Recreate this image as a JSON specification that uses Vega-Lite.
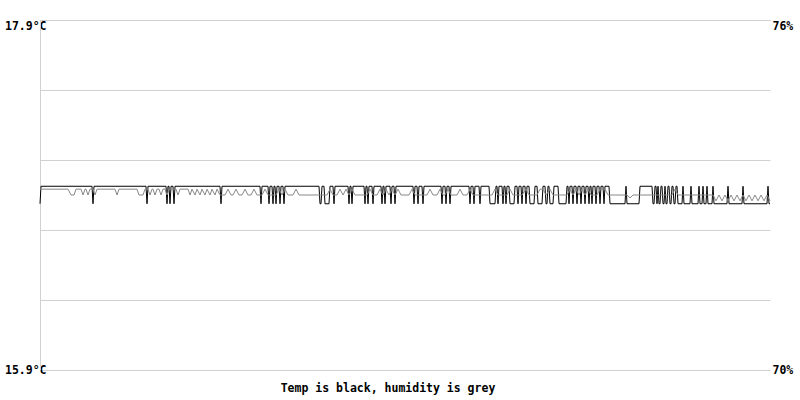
{
"$schema": "https://vega.github.io/schema/vega-lite/v6.json",
"autosize": "none",
"width": 730,
"height": 350,
"padding": {"left": 40, "top": 20, "right": 30, "bottom": 30},
"background": "white",
"config": {"view": {"stroke": null}, "font": "DejaVu Sans Mono"},
"title": {"text": "Temp is black, humidity is grey", "orient": "bottom", "anchor": "middle", "dx": -17, "offset": 7, "font": "DejaVu Sans Mono", "fontSize": 11.5, "fontWeight": "bold", "color": "#000000"},
"datasets": {
"temp": [
{"t":0,"temp":16.85},{"t":1,"temp":16.95},{"t":52,"temp":16.95},{"t":53,"temp":16.85},{"t":54,"temp":16.95},
{"t":106,"temp":16.95},{"t":107,"temp":16.85},{"t":108,"temp":16.95},
{"t":126,"temp":16.95},{"t":127,"temp":16.85},{"t":128,"temp":16.95},{"t":129,"temp":16.95},{"t":130,"temp":16.85},{"t":131,"temp":16.95},{"t":133,"temp":16.95},{"t":134,"temp":16.85},{"t":135,"temp":16.95},
{"t":180,"temp":16.95},{"t":181,"temp":16.85},{"t":182,"temp":16.95},
{"t":220,"temp":16.95},{"t":221,"temp":16.85},{"t":222,"temp":16.95},{"t":228,"temp":16.95},{"t":229,"temp":16.85},{"t":230,"temp":16.95},{"t":232,"temp":16.95},{"t":233,"temp":16.85},{"t":234,"temp":16.95},{"t":235,"temp":16.95},{"t":236,"temp":16.85},{"t":237,"temp":16.95},{"t":239,"temp":16.95},{"t":240,"temp":16.85},{"t":241,"temp":16.95},{"t":243,"temp":16.95},{"t":244,"temp":16.85},{"t":245,"temp":16.95},
{"t":279,"temp":16.95},{"t":280,"temp":16.85},{"t":281,"temp":16.85},{"t":282,"temp":16.95},{"t":284,"temp":16.95},{"t":285,"temp":16.85},{"t":289,"temp":16.85},{"t":290,"temp":16.95},{"t":293,"temp":16.95},{"t":294,"temp":16.85},{"t":295,"temp":16.95},
{"t":308,"temp":16.95},{"t":309,"temp":16.85},{"t":310,"temp":16.95},{"t":311,"temp":16.95},{"t":312,"temp":16.85},{"t":313,"temp":16.95},
{"t":324,"temp":16.95},{"t":325,"temp":16.85},{"t":326,"temp":16.95},{"t":327,"temp":16.95},{"t":328,"temp":16.85},{"t":329,"temp":16.95},{"t":332,"temp":16.95},{"t":333,"temp":16.85},{"t":334,"temp":16.95},
{"t":341,"temp":16.95},{"t":342,"temp":16.85},{"t":343,"temp":16.95},{"t":344,"temp":16.95},{"t":345,"temp":16.85},{"t":346,"temp":16.95},{"t":350,"temp":16.95},{"t":351,"temp":16.85},{"t":352,"temp":16.95},{"t":354,"temp":16.95},{"t":355,"temp":16.85},{"t":356,"temp":16.95},
{"t":373,"temp":16.95},{"t":374,"temp":16.85},{"t":375,"temp":16.95},{"t":377,"temp":16.95},{"t":378,"temp":16.85},{"t":379,"temp":16.95},{"t":382,"temp":16.95},{"t":383,"temp":16.85},{"t":384,"temp":16.95},
{"t":401,"temp":16.95},{"t":402,"temp":16.85},{"t":403,"temp":16.95},{"t":405,"temp":16.95},{"t":406,"temp":16.85},{"t":407,"temp":16.95},{"t":409,"temp":16.95},{"t":410,"temp":16.85},{"t":411,"temp":16.95},
{"t":429,"temp":16.95},{"t":430,"temp":16.85},{"t":431,"temp":16.95},{"t":433,"temp":16.95},{"t":434,"temp":16.85},{"t":435,"temp":16.95},{"t":439,"temp":16.95},{"t":440,"temp":16.85},{"t":441,"temp":16.95},
{"t":449,"temp":16.95},{"t":450,"temp":16.85},{"t":455,"temp":16.85},{"t":456,"temp":16.95},{"t":457,"temp":16.95},{"t":458,"temp":16.85},{"t":459,"temp":16.95},
{"t":462,"temp":16.95},{"t":463,"temp":16.85},{"t":464,"temp":16.95},{"t":465,"temp":16.95},{"t":466,"temp":16.85},{"t":467,"temp":16.95},{"t":469,"temp":16.95},{"t":470,"temp":16.85},{"t":474,"temp":16.85},{"t":475,"temp":16.95},{"t":477,"temp":16.95},{"t":478,"temp":16.85},{"t":479,"temp":16.95},{"t":481,"temp":16.95},{"t":482,"temp":16.85},{"t":483,"temp":16.95},{"t":485,"temp":16.95},{"t":486,"temp":16.85},{"t":487,"temp":16.95},{"t":489,"temp":16.95},{"t":490,"temp":16.85},{"t":494,"temp":16.85},{"t":495,"temp":16.95},{"t":497,"temp":16.95},{"t":498,"temp":16.85},{"t":502,"temp":16.85},{"t":503,"temp":16.95},{"t":505,"temp":16.95},{"t":506,"temp":16.85},{"t":507,"temp":16.85},{"t":508,"temp":16.95},{"t":509,"temp":16.95},{"t":510,"temp":16.85},{"t":513,"temp":16.85},{"t":514,"temp":16.95},{"t":518,"temp":16.95},{"t":519,"temp":16.85},{"t":526,"temp":16.85},{"t":527,"temp":16.95},{"t":528,"temp":16.95},{"t":529,"temp":16.85},{"t":530,"temp":16.95},{"t":532,"temp":16.95},{"t":533,"temp":16.85},{"t":534,"temp":16.95},{"t":536,"temp":16.95},{"t":537,"temp":16.85},{"t":538,"temp":16.95},{"t":540,"temp":16.95},{"t":541,"temp":16.85},{"t":542,"temp":16.95},{"t":544,"temp":16.95},{"t":545,"temp":16.85},{"t":546,"temp":16.95},
{"t":548,"temp":16.95},{"t":549,"temp":16.85},{"t":550,"temp":16.95},{"t":551,"temp":16.95},{"t":552,"temp":16.85},{"t":553,"temp":16.95},{"t":555,"temp":16.95},{"t":556,"temp":16.85},{"t":557,"temp":16.95},{"t":559,"temp":16.95},{"t":560,"temp":16.85},{"t":561,"temp":16.95},{"t":563,"temp":16.95},{"t":564,"temp":16.85},{"t":565,"temp":16.95},
{"t":569,"temp":16.95},{"t":570,"temp":16.85},{"t":585,"temp":16.85},{"t":586,"temp":16.95},{"t":587,"temp":16.85},{"t":599,"temp":16.85},{"t":600,"temp":16.95},
{"t":612,"temp":16.95},{"t":613,"temp":16.85},{"t":614,"temp":16.85},{"t":615,"temp":16.95},{"t":616,"temp":16.95},{"t":617,"temp":16.85},{"t":618,"temp":16.95},{"t":619,"temp":16.85},{"t":620,"temp":16.85},{"t":621,"temp":16.95},{"t":622,"temp":16.95},{"t":623,"temp":16.85},{"t":624,"temp":16.85},{"t":625,"temp":16.95},{"t":626,"temp":16.85},{"t":627,"temp":16.85},{"t":628,"temp":16.95},{"t":629,"temp":16.95},{"t":630,"temp":16.85},{"t":631,"temp":16.85},{"t":632,"temp":16.95},{"t":633,"temp":16.95},{"t":634,"temp":16.85},{"t":635,"temp":16.85},{"t":636,"temp":16.95},{"t":637,"temp":16.95},{"t":638,"temp":16.85},{"t":642,"temp":16.85},{"t":643,"temp":16.95},{"t":644,"temp":16.85},{"t":650,"temp":16.85},{"t":651,"temp":16.95},{"t":652,"temp":16.85},{"t":658,"temp":16.85},{"t":659,"temp":16.95},{"t":660,"temp":16.85},{"t":662,"temp":16.85},{"t":663,"temp":16.95},{"t":664,"temp":16.85},{"t":666,"temp":16.85},{"t":667,"temp":16.95},{"t":668,"temp":16.85},
{"t":672,"temp":16.85},{"t":673,"temp":16.95},{"t":674,"temp":16.85},{"t":687,"temp":16.85},{"t":688,"temp":16.95},{"t":689,"temp":16.85},{"t":702,"temp":16.85},{"t":703,"temp":16.95},{"t":704,"temp":16.85},{"t":727,"temp":16.85},{"t":728,"temp":16.95},{"t":729,"temp":16.85},{"t":730,"temp":16.85}
],
"hum": [
{"t":0,"hum":73.1},{"t":28,"hum":73.1},{"t":31,"hum":73.0},{"t":34,"hum":73.0},{"t":36,"hum":73.1},
{"t":41,"hum":73.1},{"t":43,"hum":73.0},{"t":45,"hum":73.1},{"t":46,"hum":73.1},{"t":48,"hum":73.0},{"t":50,"hum":73.1},{"t":53,"hum":73.1},{"t":55,"hum":73.0},{"t":57,"hum":73.1},
{"t":75,"hum":73.1},{"t":77,"hum":73.0},{"t":79,"hum":73.1},
{"t":97,"hum":73.1},{"t":99,"hum":73.0},{"t":103,"hum":73.0},{"t":105,"hum":73.1},
{"t":108,"hum":73.1},{"t":110,"hum":73.0},{"t":112,"hum":73.1},{"t":113,"hum":73.1},{"t":115,"hum":73.0},{"t":117,"hum":73.1},{"t":119,"hum":73.1},{"t":121,"hum":73.0},{"t":123,"hum":73.1},{"t":125,"hum":73.1},{"t":127,"hum":73.0},{"t":129,"hum":73.1},
{"t":136,"hum":73.1},{"t":138,"hum":73.0},{"t":140,"hum":73.1},
{"t":148,"hum":73.1},{"t":150,"hum":73.0},{"t":152,"hum":73.1},{"t":155,"hum":73.0},{"t":157,"hum":73.1},{"t":160,"hum":73.0},{"t":162,"hum":73.1},{"t":165,"hum":73.0},{"t":167,"hum":73.1},{"t":170,"hum":73.0},{"t":172,"hum":73.1},{"t":175,"hum":73.0},{"t":177,"hum":73.1},{"t":180,"hum":73.0},
{"t":185,"hum":73.0},{"t":188,"hum":73.1},{"t":191,"hum":73.0},{"t":193,"hum":73.0},{"t":196,"hum":73.1},{"t":199,"hum":73.0},{"t":202,"hum":73.0},{"t":205,"hum":73.1},{"t":208,"hum":73.0},{"t":211,"hum":73.0},{"t":214,"hum":73.1},{"t":217,"hum":73.0},
{"t":222,"hum":73.0},{"t":225,"hum":73.1},{"t":228,"hum":73.0},{"t":236,"hum":73.0},{"t":239,"hum":73.1},{"t":242,"hum":73.0},{"t":245,"hum":73.1},{"t":248,"hum":73.0},{"t":253,"hum":73.0},{"t":256,"hum":73.1},{"t":259,"hum":73.0},
{"t":287,"hum":73.0},{"t":290,"hum":73.1},{"t":293,"hum":73.0},{"t":297,"hum":73.0},{"t":300,"hum":73.1},{"t":303,"hum":73.0},{"t":306,"hum":73.1},{"t":309,"hum":73.0},{"t":312,"hum":73.1},{"t":315,"hum":73.0},
{"t":327,"hum":73.0},{"t":330,"hum":73.1},{"t":333,"hum":73.0},{"t":337,"hum":73.0},{"t":340,"hum":73.1},{"t":343,"hum":73.0},{"t":346,"hum":73.1},{"t":349,"hum":73.0},{"t":352,"hum":73.1},{"t":355,"hum":73.0},{"t":358,"hum":73.1},{"t":361,"hum":73.0},
{"t":369,"hum":73.0},{"t":372,"hum":73.1},{"t":375,"hum":73.0},{"t":387,"hum":73.0},{"t":390,"hum":73.1},{"t":393,"hum":73.0},{"t":397,"hum":73.0},{"t":400,"hum":73.1},{"t":403,"hum":73.0},{"t":405,"hum":73.0},{"t":408,"hum":73.1},{"t":411,"hum":73.0},
{"t":417,"hum":73.0},{"t":420,"hum":73.1},{"t":423,"hum":73.0},{"t":427,"hum":73.0},{"t":430,"hum":73.1},{"t":433,"hum":73.0},{"t":452,"hum":73.0},{"t":455,"hum":73.1},{"t":458,"hum":73.0},{"t":467,"hum":73.0},{"t":470,"hum":73.1},{"t":473,"hum":73.0},
{"t":482,"hum":73.0},{"t":486,"hum":73.1},{"t":489,"hum":73.0},{"t":497,"hum":73.0},{"t":500,"hum":73.1},{"t":503,"hum":73.1},{"t":506,"hum":73.0},{"t":510,"hum":73.1},{"t":513,"hum":73.0},
{"t":527,"hum":73.0},{"t":530,"hum":73.1},{"t":533,"hum":73.0},{"t":536,"hum":73.1},{"t":539,"hum":73.0},{"t":542,"hum":73.1},{"t":545,"hum":73.0},{"t":548,"hum":73.1},{"t":551,"hum":73.0},
{"t":557,"hum":73.0},{"t":560,"hum":73.1},{"t":565,"hum":73.1},{"t":568,"hum":73.0},{"t":587,"hum":73.0},{"t":590,"hum":72.95},{"t":593,"hum":73.0},
{"t":632,"hum":73.0},{"t":635,"hum":73.1},{"t":638,"hum":73.0},
{"t":673,"hum":73.0},{"t":676,"hum":72.9},{"t":679,"hum":73.0},{"t":682,"hum":72.9},{"t":685,"hum":73.0},{"t":688,"hum":72.9},{"t":691,"hum":73.0},{"t":694,"hum":72.9},{"t":697,"hum":73.0},{"t":700,"hum":72.9},{"t":703,"hum":73.0},{"t":706,"hum":72.9},{"t":709,"hum":73.0},{"t":712,"hum":72.9},{"t":715,"hum":73.0},{"t":718,"hum":72.9},{"t":721,"hum":73.0},{"t":724,"hum":72.9},{"t":727,"hum":73.0},{"t":730,"hum":72.9}
]
},
"layer": [
{
"data": {"name": "temp"},
"mark": {"type": "line", "color": "#000000", "strokeWidth": 1, "interpolate": "linear"},
"encoding": {
"x": {"field": "t", "type": "quantitative", "scale": {"domain": [0, 730], "nice": false, "zero": false}, "axis": null},
"y": {"field": "temp", "type": "quantitative", "scale": {"domain": [15.9, 17.9], "nice": false, "zero": false},
"axis": {"orient": "left", "title": null, "values": [15.9, 16.3, 16.7, 17.1, 17.5, 17.9],
"labelExpr": "abs(datum.value - 17.9) < 0.01 || abs(datum.value - 15.9) < 0.01 ? format(datum.value, '.1f') + '°C' : ''",
"grid": true, "gridColor": "#d0d0d0", "gridWidth": 1,
"domain": true, "domainColor": "#d0d0d0", "domainWidth": 1,
"ticks": false, "tickSize": 0, "labelPadding": -6,
"labelFont": "DejaVu Sans Mono", "labelFontSize": 11.5, "labelFontWeight": "bold", "labelColor": "#000000",
"labelBaseline": {"condition": {"test": "datum.value > 17.8", "value": "top"}, "value": "middle"},
"labelFlush": false, "labelOverlap": false}}
}
},
{
"data": {"name": "hum"},
"mark": {"type": "line", "color": "#888888", "strokeWidth": 1, "interpolate": "linear"},
"encoding": {
"x": {"field": "t", "type": "quantitative", "scale": {"domain": [0, 730], "nice": false, "zero": false}, "axis": null},
"y": {"field": "hum", "type": "quantitative", "scale": {"domain": [70, 76], "nice": false, "zero": false},
"axis": {"orient": "right", "title": null, "values": [70, 76],
"labelExpr": "datum.value + '%'",
"grid": false, "domain": false, "ticks": false, "tickSize": 0, "labelPadding": 2,
"labelFont": "DejaVu Sans Mono", "labelFontSize": 11.5, "labelFontWeight": "bold", "labelColor": "#000000",
"labelBaseline": {"condition": {"test": "datum.value > 75", "value": "top"}, "value": "middle"},
"labelFlush": false, "labelOverlap": false}}
}
}
],
"resolve": {"scale": {"y": "independent"}, "axis": {"y": "independent"}}
}
